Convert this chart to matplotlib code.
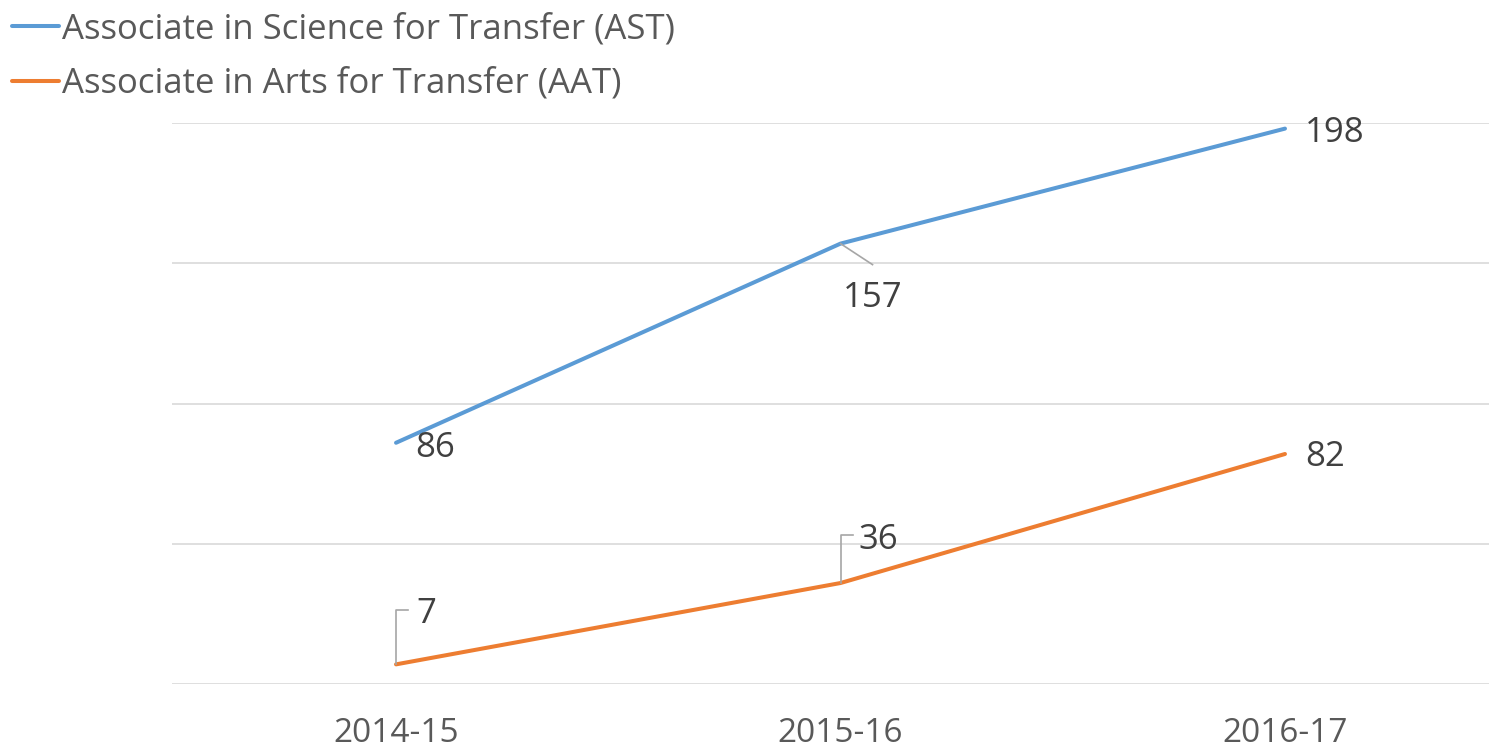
import matplotlib
matplotlib.use("Agg")
import matplotlib.pyplot as plt
from matplotlib.lines import Line2D

categories = ["2014-15", "2015-16", "2016-17"]
ast_values = [86, 157, 198]
aat_values = [7, 36, 82]
series_names = ["Associate in Science for Transfer (AST)", "Associate in Arts for Transfer (AAT)"]

BLUE = "#5b9bd5"
ORANGE = "#ed7d31"
GRID = "#d9d9d9"
TXT = "#595959"
LBL = "#404040"
LEAD = "#a6a6a6"
FONT = "Open Sans"

W, H = 1489, 754
fig = plt.figure(figsize=(W / 100, H / 100), dpi=100)
ax = fig.add_axes([172 / W, (H - 684) / H, (1489 - 172) / W, (684 - 123) / H])

x = list(range(len(categories)))
ax.plot(x, ast_values, color=BLUE, lw=2.9, solid_capstyle="round", zorder=3)
ax.plot(x, aat_values, color=ORANGE, lw=2.9, solid_capstyle="round", zorder=3)

ax.set_xlim(-0.504, 2.459)
ax.set_ylim(0, 200)
ax.set_yticks([0, 50, 100, 150, 200])
ax.yaxis.grid(True, color=GRID, lw=1.2)
ax.set_axisbelow(True)
ax.set_yticklabels([])
ax.tick_params(axis="y", length=0)
ax.set_xticks(x)
ax.set_xticklabels(categories, fontsize=24, color=TXT, family=FONT)
ax.tick_params(axis="x", length=0, pad=24)
for s in ax.spines.values():
    s.set_visible(False)

fig.canvas.draw()

# data labels: (series, index, dx, dy pixels (image: down positive), leader vertices)
labels = [
    (ast_values, 0, 19, 5, None),
    (ast_values, 1, 2, 54, [(0, 0), (32, 21)]),
    (ast_values, 2, 20, 4, None),
    (aat_values, 0, 20, -50, [(0, 0), (0, -54), (12, -54)]),
    (aat_values, 1, 18, -43, [(0, 0), (0, -48), (12, -48)]),
    (aat_values, 2, 20, 3, None),
]
for vals, i, dx, dy, lead in labels:
    px, py = ax.transData.transform((x[i], vals[i]))
    ax.annotate(str(vals[i]), xy=(x[i], vals[i]), xytext=(dx, -dy),
                textcoords="offset pixels", ha="left", va="center",
                fontsize=25, color=LBL, family=FONT, zorder=5)
    if lead:
        xs = [px + a for a, b in lead]
        ys = [py - b for a, b in lead]
        fig.add_artist(Line2D(xs, ys, transform=None, color=LEAD, lw=1.2, zorder=4))

handles = [Line2D([], [], color=BLUE, lw=2.9, solid_capstyle="round"),
           Line2D([], [], color=ORANGE, lw=2.9, solid_capstyle="round")]
fig.legend(handles, series_names, loc="upper left", bbox_to_anchor=(0.0, 1.0),
           frameon=False, handlelength=1.35, handletextpad=0.1, labelspacing=0.6,
           borderaxespad=0.0, borderpad=0.35, prop={"family": FONT, "size": 25},
           labelcolor=TXT)

fig.savefig("out.png", dpi=100)
